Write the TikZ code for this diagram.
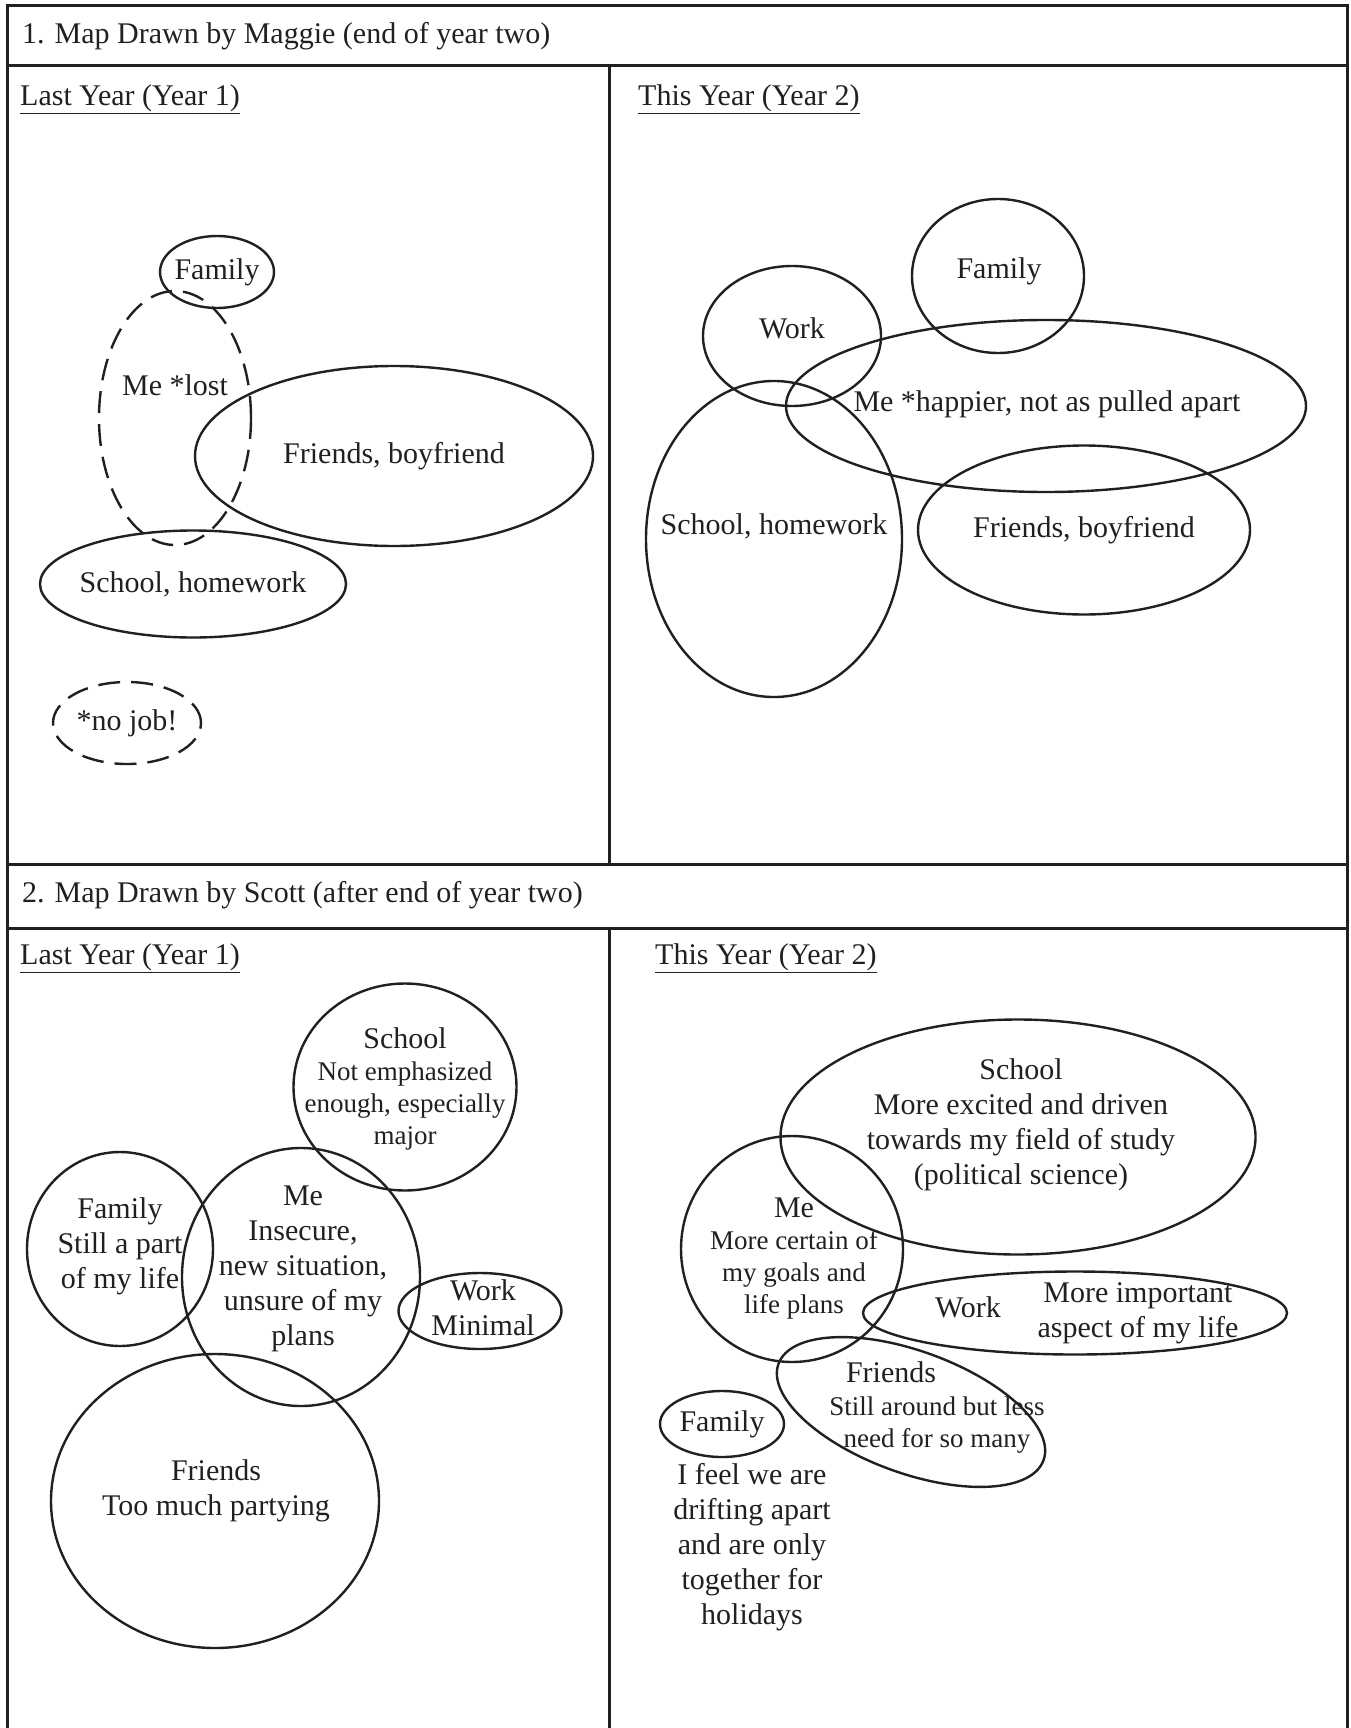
\documentclass[tikz,border=0pt]{standalone}
\usepackage{fontspec}
\setmainfont{Liberation Serif}
\usetikzlibrary{shapes.geometric}
\definecolor{ink}{HTML}{231F20}
\newcommand{\mainsize}{\fontsize{30}{35}\selectfont}
\newcommand{\smallsize}{\fontsize{27}{32}\selectfont}
\tikzstyle{frame}=[draw=ink, line width=3pt]
\tikzstyle{blob}=[ellipse, draw=ink, line width=2.4pt, inner sep=0pt]
\tikzstyle{dashblob}=[blob, dash pattern=on 22pt off 11pt]
\tikzstyle{word}=[inner sep=0pt, align=center, text=ink, font=\mainsize]
\tikzstyle{smallword}=[word, font=\smallsize]

\begin{document}
\begin{tikzpicture}[x=1pt, y=-1pt]
\useasboundingbox (0, 0) rectangle (1350, 1728);
% table lines
\draw[frame] (7, 1728) -- (7, 6) -- (1347, 6) -- (1347, 1728);
\draw[frame] (7, 66) -- (1347, 66);
\draw[frame] (7, 864) -- (1347, 864);
\draw[frame] (7, 928) -- (1347, 928);
\draw[frame] (609, 66) -- (609, 864);
\draw[frame] (609, 928) -- (609, 1728);

% headings
\node[word, anchor=west] at (22, 36) (ttlA) {1. Map Drawn by Maggie (end of year two)};
\node[word, anchor=west] at (20, 99) (hdA1) {\underline{Last Year (Year 1)}};
\node[word, anchor=west] at (638, 99) (hdA2) {\underline{This Year (Year 2)}};
\node[word, anchor=west] at (22, 895) (ttlB) {2. Map Drawn by Scott (after end of year two)};
\node[word, anchor=west] at (20, 958) (hdB1) {\underline{Last Year (Year 1)}};
\node[word, anchor=west] at (655, 958) (hdB2) {\underline{This Year (Year 2)}};

% Maggie, year 1
\node[blob, minimum width=114pt, minimum height=72pt] at (217, 272) (famA) {};
\node[dashblob, minimum width=152pt, minimum height=254pt] at (175, 418) (meA) {};
\node[blob, minimum width=398pt, minimum height=180pt] at (394, 456) (frA) {};
\node[blob, minimum width=306pt, minimum height=107pt] at (193, 584) (schA) {};
\node[dashblob, minimum width=148pt, minimum height=82pt] at (127, 723) (jobA) {};
\node[word] at (famA) (famAt) {Family};
\node[word] at (175, 385) (meAt) {Me *lost};
\node[word] at (frA) (frAt) {Friends, boyfriend};
\node[word] at (schA) (schAt) {School, homework};
\node[word] at (jobA) (jobAt) {*no job!};

% Maggie, year 2
\node[blob, minimum width=172pt, minimum height=154pt] at (998, 276) (famB) {};
\node[blob, minimum width=178pt, minimum height=140pt] at (792, 336) (workB) {};
\node[blob, minimum width=520pt, minimum height=172pt] at (1046, 406) (meB) {};
\node[blob, minimum width=256pt, minimum height=316pt] at (774, 539) (schB) {};
\node[blob, minimum width=332pt, minimum height=169pt] at (1084, 530) (frB) {};
\node[word] at (999, 271) (famBt) {Family};
\node[word] at (792, 328) (workBt) {Work};
\node[word] at (1047, 404) (meBt) {Me *happier, not as pulled apart};
\node[word] at (774, 526) (schBt) {School, homework};
\node[word] at (frB) (frBt) {Friends, boyfriend};

% Scott, year 1
\node[blob, minimum width=223pt, minimum height=207pt] at (405, 1087) (schC) {};
\node[blob, minimum width=186pt, minimum height=194pt] at (120, 1249) (famC) {};
\node[blob, minimum width=238pt, minimum height=258pt] at (301, 1277) (meC) {};
\node[blob, minimum width=163pt, minimum height=76pt] at (480, 1311) (workC) {};
\node[blob, minimum width=328pt, minimum height=294pt] at (215, 1501) (frC) {};
\node[smallword] at (405, 1089) (schCt) {\mainsize School\\Not emphasized\\enough, especially\\major};
\node[word] at (120, 1246) (famCt) {Family\\Still a part\\of my life};
\node[word] at (303, 1269) (meCt) {Me\\Insecure,\\new situation,\\unsure of my\\plans};
\node[word] at (483, 1308) (workCt) {Work\\Minimal};
\node[word] at (216, 1491) (frCt) {Friends\\Too much partying};

% Scott, year 2
\node[blob, minimum width=475pt, minimum height=235pt] at (1018, 1137) (schD) {};
\node[blob, minimum width=222pt, minimum height=226pt] at (792, 1249) (meD) {};
\node[blob, minimum width=424pt, minimum height=83pt] at (1075, 1313) (workD) {};
\node[blob, minimum width=282pt, minimum height=122pt, rotate=-20] at (911, 1412) (frD) {};
\node[blob, minimum width=124pt, minimum height=66pt] at (722, 1424) (famD) {};
\node[word] at (1021, 1125) (schDt) {School\\More excited and driven\\towards my field of study\\(political science)};
\node[smallword] at (794, 1259) (meDt) {\mainsize Me\\More certain of\\my goals and\\life plans};
\node[word] at (968, 1307) (workDt) {Work};
\node[word] at (1138, 1313) (workDn) {More important\\aspect of my life};
\node[word] at (891, 1372) (frDt) {Friends};
\node[smallword] at (937, 1425) (frDn) {Still around but less\\need for so many};
\node[word] at (famD) (famDt) {Family};
\node[word] at (752, 1547) (famDn) {I feel we are\\drifting apart\\and are only\\together for\\holidays};
\end{tikzpicture}
\end{document}
